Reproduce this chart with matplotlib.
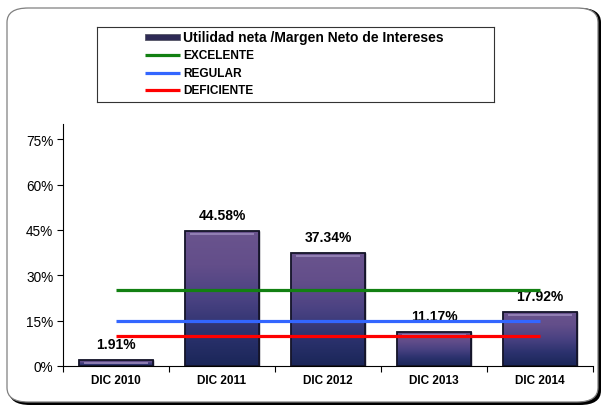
import matplotlib
matplotlib.use("Agg")
import matplotlib.pyplot as plt
import numpy as np
from matplotlib.patches import FancyBboxPatch
from matplotlib.colors import LinearSegmentedColormap

categories = ["DIC 2010", "DIC 2011", "DIC 2012", "DIC 2013", "DIC 2014"]
values = [1.91, 44.58, 37.34, 11.17, 17.92]
excelente = [25, 25, 25, 25, 25]
regular = [15, 15, 15, 15, 15]
deficiente = [10, 10, 10, 10, 10]
yticks = [0, 15, 30, 45, 60, 75]
series_name = "Utilidad neta /Margen Neto de Intereses"

plt.rcParams['font.family'] = ['Liberation Sans', 'DejaVu Sans']

fig = plt.figure(figsize=(6.04, 4.10), dpi=100)
W, H = 604, 410

# rounded border with shadow
shadow = FancyBboxPatch((9 / W, 4 / H), 592 / W, 397 / H,
                        boxstyle="round,pad=0,rounding_size=0.035",
                        transform=fig.transFigure, facecolor="black",
                        edgecolor="black", lw=0, zorder=0)
fig.patches.append(shadow)
frame = FancyBboxPatch((7 / W, 7 / H), 591 / W, 394 / H,
                       boxstyle="round,pad=0,rounding_size=0.035",
                       transform=fig.transFigure, facecolor="white",
                       edgecolor="#808080", lw=0.9, zorder=1)
fig.patches.append(frame)

ax = fig.add_axes([63 / W, (H - 367) / H, (593 - 63) / W, (367 - 125) / H])
ax.set_zorder(2)
ax.patch.set_alpha(0)

x = np.arange(len(categories))
bars = ax.bar(x, values, width=0.69, color="#3e3a72", edgecolor="#1a1a2a",
              linewidth=1.0, zorder=2)

cmap = LinearSegmentedColormap.from_list(
    "barg", ["#1a2658", "#2c326e", "#4a4282", "#634e8a", "#6a548e"])
grad = np.linspace(0, 1, 256).reshape(-1, 1)
for b in bars:
    bx, by = b.get_x(), b.get_y()
    bw, bh = b.get_width(), b.get_height()
    im = ax.imshow(grad, extent=(bx, bx + bw, by, by + bh), origin="lower",
                   cmap=cmap, aspect="auto", zorder=2.1)
    im.set_clip_path(b)
    ax.plot([bx + bw * 0.06, bx + bw * 0.94], [by + bh - 0.9, by + bh - 0.9],
            color="#9a88bb", lw=1.2, zorder=2.2, solid_capstyle="butt")
    ax.add_patch(plt.Rectangle((bx, by), bw, bh, fill=False,
                               edgecolor="#15152a", lw=1.3, zorder=2.3))

for xi, v in zip(x, values):
    ax.text(xi, v + 3.0, f"{v:.2f}%", ha="center", va="bottom",
            fontsize=10, fontweight="bold", color="black", zorder=2.4)

ax.plot(x, excelente, color="#128012", lw=2.3, zorder=3, solid_capstyle="butt")
ax.plot(x, regular, color="#3366ff", lw=2.3, zorder=3, solid_capstyle="butt")
ax.plot(x, deficiente, color="#ff0000", lw=2.3, zorder=3, solid_capstyle="butt")

ax.set_xlim(-0.5, len(categories) - 0.5)
ax.set_ylim(0, 80)
ax.set_yticks(yticks)
ax.set_yticklabels([f"{t}%" for t in yticks], fontsize=9.8)
ax.set_xticks(x)
ax.set_xticklabels(categories, fontsize=8.5, fontweight="bold")
ax.set_xticks(np.arange(len(categories) + 1) - 0.5, minor=True)
ax.tick_params(axis="x", which="major", length=0, pad=6)
ax.tick_params(axis="x", which="minor", length=4, direction="out", width=0.8)
ax.tick_params(axis="y", length=4, width=0.8, pad=3)
for s in ["top", "right"]:
    ax.spines[s].set_visible(False)
ax.spines["left"].set_linewidth(0.8)
ax.spines["bottom"].set_linewidth(0.8)

# legend box
lax = fig.add_axes([97 / W, (H - 103) / H, (494 - 97) / W, (103 - 28) / H])
lax.set_zorder(3)
lax.set_xlim(0, 397)
lax.set_ylim(75, 0)
lax.set_xticks([])
lax.set_yticks([])
for s in lax.spines.values():
    s.set_linewidth(0.8)
    s.set_color("#333333")
rows = [(10, series_name, None, 10),
        (28, "EXCELENTE", "#128012", 8.6),
        (46, "REGULAR", "#3366ff", 8.6),
        (63, "DEFICIENTE", "#ff0000", 8.6)]
for yy, label, col, fs in rows:
    if col is None:
        lax.add_patch(plt.Rectangle((48, yy - 3), 35, 6, facecolor="#2e2a55",
                                    edgecolor="#555566", lw=0.6))
    else:
        lax.plot([48, 83], [yy, yy], color=col, lw=2.3, solid_capstyle="butt")
    lax.text(86, yy, label, fontsize=fs, fontweight="bold", va="center",
             ha="left")

fig.savefig("out.png", dpi=100)
